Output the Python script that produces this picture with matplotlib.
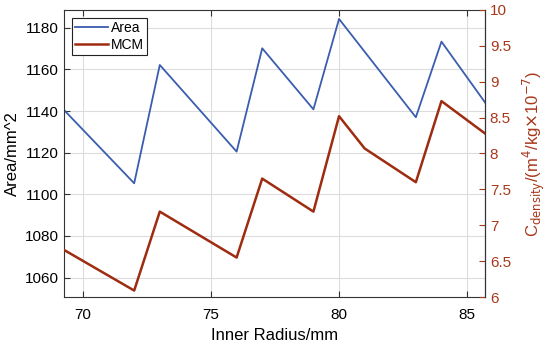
import matplotlib.pyplot as plt

plt.rcParams['font.family'] = ['Liberation Sans', 'DejaVu Sans']

# Area (left axis)
area_r = [69, 72, 73, 76, 77, 79, 80, 83, 84, 86]
area = [1143.8, 1105.3, 1162.1, 1120.5, 1170.1, 1140.8, 1184.2, 1137.0, 1173.3, 1139.0]

# MCM (right axis)
mcm_r = [69, 72, 73, 76, 77, 79, 80, 81, 83, 84, 86]
mcm = [6.71, 6.09, 7.19, 6.55, 7.65, 7.19, 8.52, 8.07, 7.60, 8.73, 8.20]

x_ticks = [70, 75, 80, 85]
blue = '#3A5DAE'
red = '#9E2C10'
red_txt = '#A8381C'

fig = plt.figure(figsize=(5.5, 3.44), dpi=100)
ax = fig.add_axes([0.1164, 0.1366, 0.7654, 0.8344])
ax2 = ax.twinx()

l1, = ax.plot(area_r, area, color=blue, lw=1.3, label='Area')
l2, = ax2.plot(mcm_r, mcm, color=red, lw=1.8, label='MCM')

ax.set_xlim(69.26, 85.7)
ax.set_ylim(1050.7, 1188.5)
ax2.set_ylim(6, 10)
ax.set_xticks(x_ticks)
ax.set_yticks([1060, 1080, 1100, 1120, 1140, 1160, 1180])
ax2.set_yticks([6, 6.5, 7, 7.5, 8, 8.5, 9, 9.5, 10])
ax2.set_yticklabels(['6', '6.5', '7', '7.5', '8', '8.5', '9', '9.5', '10'])

ax.grid(True, color='#DCDCDC', lw=0.8)
ax.tick_params(axis='x', direction='in', top=True, labelsize=11, length=4, color='#333333', pad=8)
ax.tick_params(axis='y', direction='in', labelsize=11, length=4, color='#333333')
ax2.tick_params(axis='y', direction='in', labelsize=11, length=4, colors=red_txt)
for s in ['left', 'bottom', 'top']:
    ax.spines[s].set_color('#333333')
ax2.spines['right'].set_color('#333333')
ax2.spines['top'].set_visible(False)
ax2.spines['left'].set_visible(False)
ax2.spines['bottom'].set_visible(False)

ax.set_xlabel('Inner Radius/mm', fontsize=12, labelpad=4)
ax.set_ylabel('Area/mm^2', fontsize=12, labelpad=4)
ax2.set_ylabel(r'C$_{\mathrm{density}}$/(m$^4$/kg$\times$10$^{-7}$)', fontsize=12,
               color=red_txt, labelpad=7)

leg = ax.legend(handles=[l1, l2], loc='upper left', fontsize=10, fancybox=False,
                framealpha=1, edgecolor='#222222', handlelength=2.4, handletextpad=0.2,
                borderaxespad=0.6, borderpad=0.2, labelspacing=0.2)
leg.get_frame().set_linewidth(0.8)

fig.savefig('out.png', dpi=100)
